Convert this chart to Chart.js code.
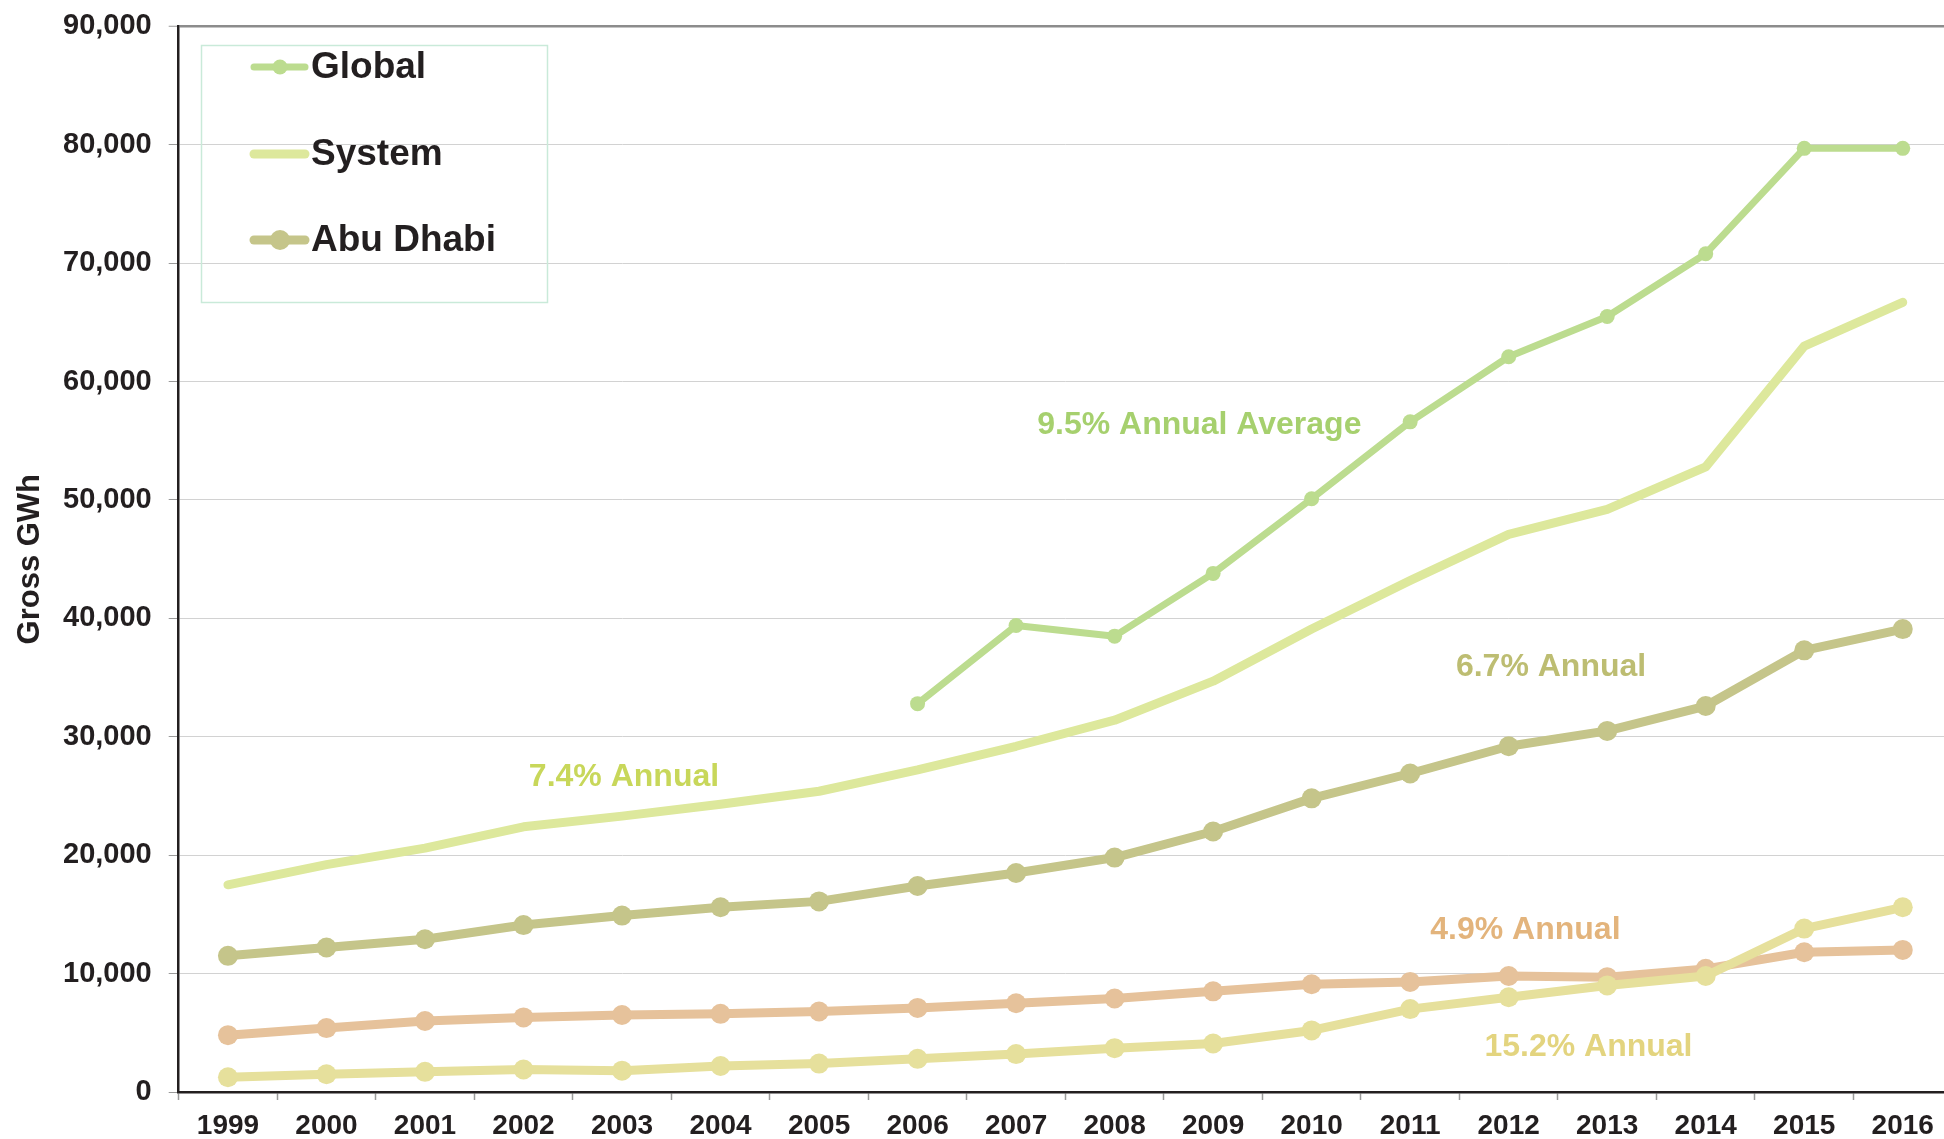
<!DOCTYPE html>
<html>
<head>
<meta charset="utf-8">
<script src="https://cdn.jsdelivr.net/npm/chart.js@4/dist/chart.umd.min.js"></script>
<style>
  html, body { margin: 0; padding: 0; background: #ffffff; overflow: hidden; }
  #wrap { position: relative; width: 1944px; height: 1139px; overflow: hidden; }
  #c { position: absolute; left: 0; top: -8px; }
</style>
</head>
<body>
<div id="wrap"><canvas id="c" width="1962" height="1160"></canvas></div>
<script>
// ---- data ----
const years = ['1999','2000','2001','2002','2003','2004','2005','2006','2007','2008','2009','2010','2011','2012','2013','2014','2015','2016'];
const globalGWh   = [null, null, null, null, null, null, null, 32800, 39400, 38500, 43800, 50100, 56600, 62100, 65500, 70800, 79700, 79700];
const systemGWh   = [17500, 19200, 20600, 22400, 23300, 24300, 25400, 27200, 29200, 31400, 34700, 39100, 43200, 47100, 49200, 52800, 63000, 66700];
const abuDhabiGWh = [11500, 12200, 12900, 14100, 14900, 15600, 16100, 17400, 18500, 19800, 22000, 24800, 26900, 29200, 30500, 32600, 37300, 39100];
const series49GWh = [4800, 5400, 6000, 6300, 6500, 6600, 6800, 7100, 7500, 7900, 8500, 9100, 9300, 9800, 9700, 10400, 11800, 12000];
const series152GWh = [1250, 1500, 1700, 1900, 1800, 2200, 2400, 2800, 3200, 3700, 4100, 5200, 7000, 8000, 9000, 9800, 13800, 15600];
const yTicks = [0, 10000, 20000, 30000, 40000, 50000, 60000, 70000, 80000, 90000];
const legendNames = ['Global', 'System', 'Abu Dhabi'];
// growth-rate annotations: text, x position (category index), y position (GWh)
const noteTexts = ['9.5% Annual Average', '7.4% Annual', '6.7% Annual', '4.9% Annual', '15.2% Annual'];
const noteX     = [9.86, 4.02, 13.43, 13.17, 13.81];
const noteY     = [56300, 26600, 35900, 13700, 3800];
const noteColors = ['#a6d06e', '#c8d75a', '#bdbd72', '#e3b47c', '#e3d47f'];

const FONT = "'Liberation Sans', Arial, Helvetica, sans-serif";
const DARK = '#231f20';
const OFF = 8; // canvas is shifted up by this many px

const legendPlugin = {
  id: 'boxLegend',
  afterDraw(chart) {
    const ctx = chart.ctx;
    ctx.save();
    ctx.translate(0, OFF);
    ctx.strokeStyle = '#c9ead9';
    ctx.lineWidth = 1.5;
    ctx.strokeRect(201.5, 45.5, 346, 257);
    const rows = [67, 154, 240];
    legendNames.forEach((name, i) => {
      const ds = chart.data.datasets[i];
      const y = rows[i];
      ctx.strokeStyle = ds.borderColor;
      ctx.lineWidth = ds.borderWidth;
      ctx.lineCap = 'round';
      ctx.beginPath();
      ctx.moveTo(254, y);
      ctx.lineTo(305, y);
      ctx.stroke();
      if (ds.pointRadius > 0) {
        ctx.fillStyle = ds.borderColor;
        ctx.beginPath();
        ctx.arc(280, y, ds.pointRadius, 0, Math.PI * 2);
        ctx.fill();
      }
      ctx.fillStyle = DARK;
      ctx.font = 'bold 37px ' + FONT;
      ctx.textAlign = 'left';
      ctx.textBaseline = 'middle';
      ctx.fillText(name, 311, y + 1);
    });
    ctx.restore();
  }
};

const notesPlugin = {
  id: 'notes',
  afterDatasetsDraw(chart) {
    const ctx = chart.ctx;
    const xs = chart.scales.x, ys = chart.scales.y;
    ctx.save();
    ctx.font = 'bold 32px ' + FONT;
    ctx.textAlign = 'center';
    ctx.textBaseline = 'middle';
    noteTexts.forEach((t, i) => {
      ctx.fillStyle = noteColors[i];
      ctx.fillText(t, xs.getPixelForValue(noteX[i]), ys.getPixelForValue(noteY[i]));
    });
    ctx.restore();
  }
};

function lineDs(label, data, color, width, radius) {
  return {
    label, data,
    borderColor: color, backgroundColor: color,
    pointBackgroundColor: color, pointBorderColor: color,
    borderWidth: width, pointRadius: radius, pointHoverRadius: radius,
    pointBorderWidth: 0,
    tension: 0, fill: false,
    borderCapStyle: 'round', borderJoinStyle: 'round',
    spanGaps: false
  };
}

new Chart(document.getElementById('c'), {
  type: 'line',
  data: {
    labels: years,
    datasets: [
      lineDs('Global', globalGWh, '#bcdc8f', 7, 7.5),
      lineDs('System', systemGWh, '#dde89c', 9, 0),
      lineDs('Abu Dhabi', abuDhabiGWh, '#c5c58a', 9, 10),
      lineDs('15.2% Annual', series152GWh, '#e6e09c', 9, 10),
      lineDs('4.9% Annual', series49GWh, '#e6c29b', 9, 10)
    ]
  },
  options: {
    responsive: false,
    devicePixelRatio: 1,
    animation: false,
    layout: { padding: 0 },
    plugins: {
      legend: { display: false },
      tooltip: { enabled: false },
      title: { display: false }
    },
    scales: {
      x: {
        type: 'category',
        offset: true,
        grid: {
          display: true,
          drawOnChartArea: false,
          drawTicks: true,
          offset: true,
          tickLength: 8,
          tickColor: '#9a9a9a',
          tickWidth: 1.5
        },
        border: { display: true, color: DARK, width: 2.5 },
        ticks: {
          color: DARK,
          font: { family: FONT, size: 28, weight: 'bold', lineHeight: 1.0 },
          padding: 12,
          maxRotation: 0,
          autoSkip: false
        }
      },
      y: {
        min: 0,
        max: 90000,
        afterBuildTicks(scale) { scale.ticks = yTicks.map(v => ({ value: v })); },
        grid: {
          color: ctx => (ctx.tick && ctx.tick.value === 90000) ? '#8c8c8c' : '#d2d2d2',
          lineWidth: ctx => (ctx.tick && ctx.tick.value === 90000) ? 2.5 : 1,
          drawTicks: true,
          tickLength: 10,
          tickColor: '#9a9a9a',
          tickWidth: 1
        },
        border: { display: true, color: DARK, width: 2.5 },
        ticks: {
          color: DARK,
          font: { family: FONT, size: 29, weight: 'bold' },
          padding: 17,
          callback: v => Number(v).toLocaleString('en-US')
        },
        title: {
          display: true,
          text: 'Gross GWh',
          color: DARK,
          font: { family: FONT, size: 31, weight: 'bold', lineHeight: 1.0 },
          padding: { top: 15, bottom: 0 }
        }
      }
    }
  },
  plugins: [notesPlugin, legendPlugin]
});
</script>
</body>
</html>
